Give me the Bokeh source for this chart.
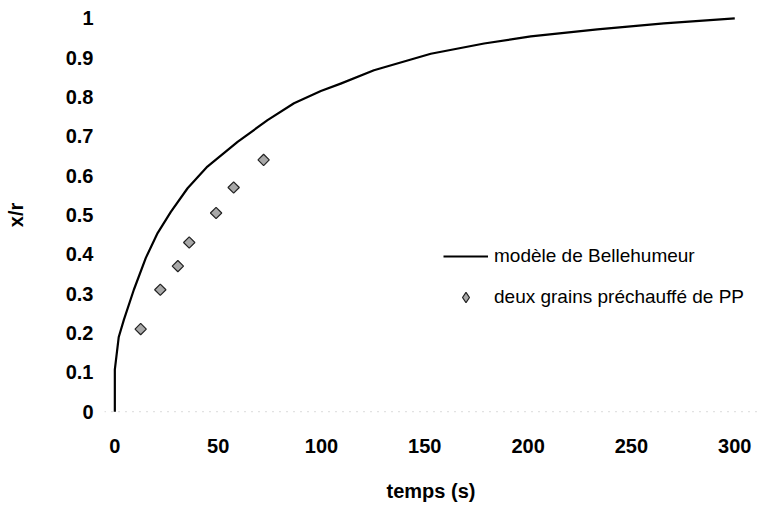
import math
from bokeh.plotting import figure
from bokeh.models import FixedTicker, Legend, LegendItem, Span
from bokeh.embed import file_html
from bokeh.resources import INLINE

# Bellehumeur model curve
model_t = [0, 0, 1.9, 4.4, 9.2, 15, 20.7, 27.1, 35.2, 44.8, 59.4, 73.9, 86.7, 99.7,
           109.3, 125.4, 152.9, 178.7, 201.3, 233.5, 265.7, 300]
model_xr = [0, 0.107, 0.19, 0.234, 0.31, 0.391, 0.454, 0.508, 0.568, 0.623, 0.686, 0.741,
            0.784, 0.815, 0.834, 0.868, 0.910, 0.936, 0.954, 0.972, 0.987, 1.0]

# Experimental points: two preheated PP grains
exp_t = [12.5, 22, 30.5, 36, 49, 57.5, 72]
exp_xr = [0.21, 0.31, 0.37, 0.43, 0.505, 0.57, 0.64]

x_ticks = [0, 50, 100, 150, 200, 250, 300]
x_tick_labels = ["0", "50", "100", "150", "200", "250", "300"]
y_ticks = [0, 0.1, 0.2, 0.3, 0.4, 0.5, 0.6, 0.7, 0.8, 0.9, 1]
y_tick_labels = ["0", "0.1", "0.2", "0.3", "0.4", "0.5", "0.6", "0.7", "0.8", "0.9", "1"]

FONT = "Liberation Sans"
MARK_FILL = "#a8a8a8"
MARK_LINE = "#222222"

p = figure(width=757, height=504, output_backend="svg", toolbar_location=None,
           x_range=(-5, 311), y_range=(-0.03, 1.03),
           min_border_left=104, min_border_right=0, min_border_top=6, min_border_bottom=80)
p.outline_line_color = None
p.xgrid.visible = False
p.ygrid.visible = False
p.background_fill_color = "white"
p.border_fill_color = "white"

# faint dotted baseline at y=0
p.add_layout(Span(location=0, dimension="width", line_color="#b8b8b8",
                  line_width=1, line_dash="1 6"))

line_r = p.line(model_t, model_xr, line_color="black", line_width=2.2, line_join="round")
pts_r = p.scatter(exp_t, exp_xr, marker="square", angle=math.pi / 4, size=8,
                  fill_color=MARK_FILL, line_color=MARK_LINE, line_width=1.2)
# legend swatch only (not drawn in the plot): diamond shape like the rotated squares
legend_pts = p.scatter(x=[float("nan")], y=[float("nan")], marker="diamond", size=10,
                       fill_color=MARK_FILL, line_color=MARK_LINE, line_width=1.2)

for ax in (p.xaxis[0], p.yaxis[0]):
    ax.axis_line_color = None
    ax.major_tick_line_color = None
    ax.minor_tick_line_color = None
    ax.major_tick_out = 0
    ax.major_tick_in = 0
    ax.major_label_text_font = FONT
    ax.major_label_text_font_style = "bold"
    ax.major_label_text_font_size = "20px"
    ax.major_label_text_color = "black"
    ax.axis_label_text_font = FONT
    ax.axis_label_text_font_style = "bold"
    ax.axis_label_text_font_size = "20px"
    ax.axis_label_text_color = "black"

p.xaxis[0].ticker = FixedTicker(ticks=x_ticks)
p.xaxis[0].major_label_overrides = {t: l for t, l in zip(x_ticks, x_tick_labels)}
p.yaxis[0].ticker = FixedTicker(ticks=y_ticks)
p.yaxis[0].major_label_overrides = {t: l for t, l in zip(y_ticks, y_tick_labels)}

p.xaxis[0].axis_label = "temps (s)"
p.yaxis[0].axis_label = "x/r"
p.xaxis[0].major_label_standoff = 15
p.xaxis[0].axis_label_standoff = 24
p.yaxis[0].major_label_standoff = 11
p.yaxis[0].axis_label_standoff = 36

legend = Legend(items=[LegendItem(label="modèle de Bellehumeur", renderers=[line_r]),
                       LegendItem(label="deux grains préchauffé de PP", renderers=[legend_pts])],
                location=(339, 113), orientation="vertical",
                glyph_width=45, glyph_height=26, label_height=20, spacing=15,
                label_standoff=6, padding=0, margin=0,
                border_line_color=None, background_fill_alpha=0,
                label_text_font=FONT, label_text_font_size="19px",
                label_text_color="black")
p.add_layout(legend, "center")

open("out.html", "w").write(file_html(p, INLINE))
